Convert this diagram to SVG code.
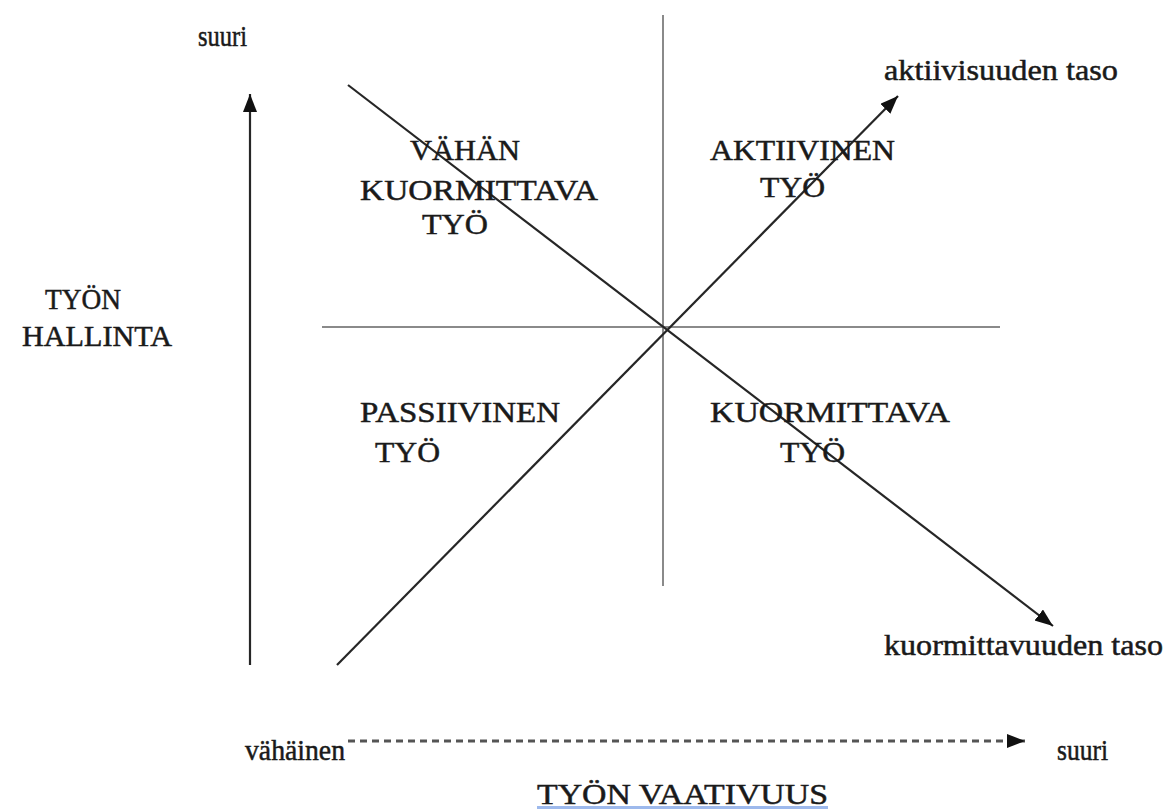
<svg xmlns="http://www.w3.org/2000/svg" width="1171" height="812" viewBox="0 0 1171 812">
<style>
  text { font-family: "Liberation Serif", "Times New Roman", "DejaVu Serif", serif; fill: #1a1a1a; stroke: #1a1a1a; stroke-width: 0.5; }
  .cap { font-size: 30px; }
  .low { font-size: 29px; }
  .thin { stroke: #8a8a8a; stroke-width: 2; fill: none; }
  .dark { stroke: #262626; stroke-width: 2.2; fill: none; }
  .dash { stroke: #555; stroke-width: 3; stroke-dasharray: 7 5; fill: none; }
</style>
<defs>
  <marker id="ah" markerUnits="userSpaceOnUse" markerWidth="20" markerHeight="16" refX="18" refY="7" orient="auto">
    <path d="M0,0 L18,7 L0,14 z" fill="#111"/>
  </marker>
</defs>
<rect width="1171" height="812" fill="#fff"/>
<g id="connectors">
  <line class="thin" x1="663" y1="15" x2="663" y2="586"/>
  <line class="thin" x1="322" y1="327" x2="1000" y2="327"/>
  <line class="dark" x1="250" y1="665" x2="250" y2="94" marker-end="url(#ah)"/>
  <line class="dark" x1="348" y1="85" x2="1053" y2="626" marker-end="url(#ah)"/>
  <line class="dark" x1="337" y1="665" x2="898" y2="96" marker-end="url(#ah)"/>
  <line class="dash" x1="348" y1="741" x2="1025" y2="741" marker-end="url(#ah)"/>
</g>
<g id="label-suuri-top"><text class="low" x="198" y="46" textLength="49" lengthAdjust="spacingAndGlyphs">suuri</text></g>
<g id="label-aktiivisuuden"><text class="low" x="884" y="80" textLength="234" lengthAdjust="spacingAndGlyphs">aktiivisuuden taso</text></g>
<g id="node-vahan">
  <text class="cap" x="410" y="160" textLength="110" lengthAdjust="spacingAndGlyphs">VÄHÄN</text>
  <text class="cap" x="360" y="200" textLength="238" lengthAdjust="spacingAndGlyphs">KUORMITTAVA</text>
  <text class="cap" x="422" y="234" textLength="66" lengthAdjust="spacingAndGlyphs">TYÖ</text>
</g>
<g id="node-aktiivinen">
  <text class="cap" x="710" y="160" textLength="185" lengthAdjust="spacingAndGlyphs">AKTIIVINEN</text>
  <text class="cap" x="760" y="197" textLength="65" lengthAdjust="spacingAndGlyphs">TYÖ</text>
</g>
<g id="label-tyon-hallinta">
  <text class="cap" x="45" y="309" textLength="76" lengthAdjust="spacingAndGlyphs">TYÖN</text>
  <text class="cap" x="22" y="346" textLength="150" lengthAdjust="spacingAndGlyphs">HALLINTA</text>
</g>
<g id="node-passiivinen">
  <text class="cap" x="360" y="422" textLength="200" lengthAdjust="spacingAndGlyphs">PASSIIVINEN</text>
  <text class="cap" x="375" y="462" textLength="65" lengthAdjust="spacingAndGlyphs">TYÖ</text>
</g>
<g id="node-kuormittava">
  <text class="cap" x="710" y="422" textLength="240" lengthAdjust="spacingAndGlyphs">KUORMITTAVA</text>
  <text class="cap" x="780" y="462" textLength="65" lengthAdjust="spacingAndGlyphs">TYÖ</text>
</g>
<g id="label-kuormittavuuden"><text class="low" x="884" y="655" textLength="279" lengthAdjust="spacingAndGlyphs">kuormittavuuden taso</text></g>
<g id="label-vahainen"><text class="low" x="245" y="760" textLength="100" lengthAdjust="spacingAndGlyphs">vähäinen</text></g>
<g id="label-suuri-bottom"><text class="low" x="1057" y="760" textLength="51" lengthAdjust="spacingAndGlyphs">suuri</text></g>
<g id="label-tyon-vaativuus">
  <rect x="537" y="806" width="291" height="3" fill="#9db9ec"/>
  <text class="cap" x="537" y="804" textLength="291" lengthAdjust="spacingAndGlyphs">TYÖN  VAATIVUUS</text>
</g>
</svg>
